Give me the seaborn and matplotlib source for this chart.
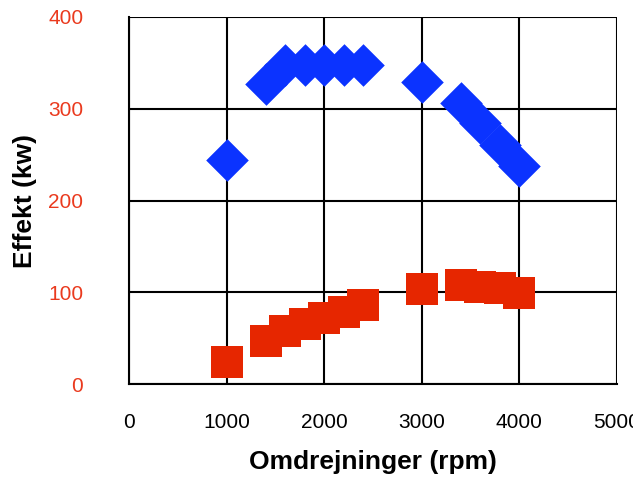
import matplotlib
matplotlib.use("Agg")
import matplotlib.pyplot as plt
import seaborn as sns
import pandas as pd

# Data
rpm = [1000, 1400, 1600, 1800, 2000, 2200, 2400, 3000, 3400, 3600, 3800, 4000]
effekt_blaa = [244, 327, 348, 348, 348, 348, 348, 329, 306, 284, 261, 238]
effekt_roed = [24, 47, 57.5, 65, 72, 79, 86.5, 103, 108, 105.5, 104.5, 99]
x_ticks = [0, 1000, 2000, 3000, 4000, 5000]
y_ticks = [0, 100, 200, 300, 400]

sns.set_style("white")
plt.rcParams['font.family'] = ['Liberation Sans', 'DejaVu Sans']

df = pd.DataFrame({"rpm": rpm, "blaa": effekt_blaa, "roed": effekt_roed})

fig = plt.figure(figsize=(6.33, 4.79), dpi=100)
ax = fig.add_axes([129 / 633, 1 - 384 / 479, (617 - 129) / 633, (384 - 17) / 479])

sns.scatterplot(data=df, x="rpm", y="blaa", marker="D", s=470, color="#0b33ff",
                linewidth=0, ax=ax, zorder=3, clip_on=False)
sns.scatterplot(data=df, x="rpm", y="roed", marker="s", s=520, color="#e62600",
                linewidth=0, ax=ax, zorder=3, clip_on=False)

ax.set_xlim(0, 5000)
ax.set_ylim(0, 400)
ax.set_xticks(x_ticks)
ax.set_yticks(y_ticks)
ax.set_axisbelow(True)
ax.grid(True, color="black", linewidth=1.5)

for side in ["left", "bottom"]:
    ax.spines[side].set_color("black")
    ax.spines[side].set_linewidth(1.5)
for side in ["top", "right"]:
    ax.spines[side].set_visible(False)

ax.tick_params(axis="both", direction="inout", length=10, width=1.5, color="black",
               labelsize=15)
ax.tick_params(axis="y", pad=28, labelcolor="#ea3a1e")
ax.tick_params(axis="x", pad=16, labelcolor="black")

ax.set_xlabel("Omdrejninger (rpm)", fontsize=19, fontweight="bold", labelpad=13,
              color="black")
ax.set_ylabel("Effekt (kw)", fontsize=19, fontweight="bold", labelpad=8,
              color="black")

fig.savefig("out.png", dpi=100)
